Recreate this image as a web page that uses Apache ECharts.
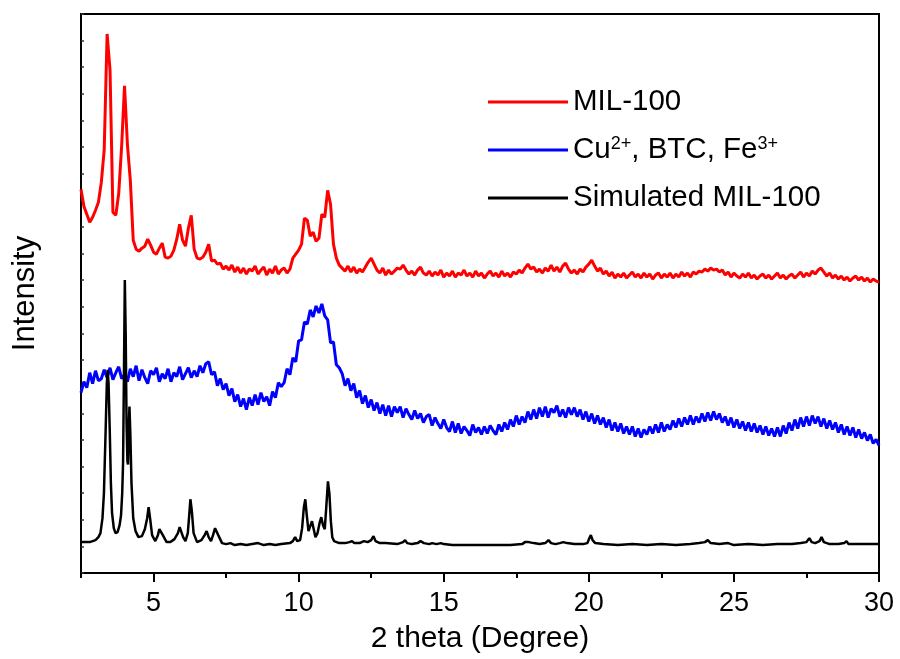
<!DOCTYPE html>
<html>
<head>
<meta charset="utf-8">
<script src="https://cdn.jsdelivr.net/npm/echarts@6/dist/echarts.min.js"></script>
<style>
  html, body { margin: 0; padding: 0; background: #fff; }
  #chart { width: 900px; height: 659px; }
</style>
</head>
<body>
<div id="chart"></div>
<script>
// XRD patterns, intensity in arbitrary units (offset stacked)
const seriesNames = ['MIL-100', 'Cu2+, BTC, Fe3+', 'Simulated MIL-100'];
const seriesColors = ['#ff0000', '#0000ff', '#000000'];

// measured patterns: 2θ from 2.5° in 0.1° steps
const scanStart = 2.5;
const scanStep = 0.1;

const mil100 = [
  385, 368, 360, 352, 357, 364, 372, 392, 425, 541,
  505, 362, 359, 381, 428, 489, 430, 394, 334, 325,
  323, 326, 328, 335, 329, 322, 320, 326, 331, 317,
  316, 318, 324, 335, 350, 334, 328, 346, 359, 325,
  316, 315, 317, 322, 330, 313, 314, 310, 311, 305,
  308, 304, 309, 302, 307, 301, 306, 300, 305, 303,
  308, 300, 304, 307, 299, 305, 301, 308, 300, 304,
  306, 301, 305, 316, 320, 324, 330, 356, 354, 338,
  342, 333, 336, 360, 357, 384, 370, 330, 316, 309,
  306, 303, 308, 302, 307, 301, 305, 302, 307, 312,
  316, 310, 304, 301, 306, 299, 304, 300, 303, 306,
  305, 309, 304, 300, 303, 299, 304, 307, 301, 299,
  303, 298, 302, 299, 304, 297, 301, 298, 303, 297,
  301, 299, 304, 298, 301, 297, 303, 298, 301, 296,
  300, 303, 298, 301, 297, 303, 298, 301, 297, 302,
  300, 304, 301, 306, 310, 305, 307, 302, 305, 301,
  306, 303, 309, 303, 307, 302, 308, 311, 305, 301,
  304, 300, 305, 302, 307, 310, 314, 308, 303, 306,
  300, 303, 298, 302, 296, 300, 297, 301, 296, 299,
  302, 297, 300, 296, 301, 297, 300, 295, 299, 301,
  296, 300, 297, 301, 296, 300, 297, 302, 298, 301,
  297, 302, 300, 303, 302, 305, 303, 306, 304, 305,
  302, 304, 299, 302, 297, 301, 298, 296, 300, 297,
  301, 296, 299, 295, 298, 300, 296, 299, 295, 298,
  301, 296, 299, 295, 298, 300, 296, 299, 302, 297,
  301, 298, 303, 300, 304, 306, 302, 298, 301, 296,
  299, 295, 298, 294, 297, 293, 296, 298, 294, 297,
  293, 296, 292, 295, 293, 292
];

const cuBtcFe = [
  181, 192, 186, 201, 190, 203, 193, 195, 204, 196,
  206, 194, 201, 207, 195, 199, 192, 205, 197, 208,
  193, 204, 196, 190, 203, 199, 206, 192, 200, 195,
  205, 192, 201, 197, 207, 194, 200, 206, 196, 203,
  197, 208, 201, 210, 212, 199, 202, 188, 195, 184,
  190, 178, 185, 172, 179, 167, 175, 164, 176, 168,
  179, 169, 181, 172, 177, 168, 182, 176, 191, 187,
  191, 205, 199, 216, 212, 233, 234, 252, 250, 264,
  257, 268, 261, 270, 258, 254, 231, 232, 209, 206,
  200, 188, 195, 183, 190, 176, 183, 170, 178, 166,
  174, 163, 171, 160, 169, 158, 168, 157, 167, 161,
  167, 156, 165, 159, 154, 163, 155, 160, 151, 157,
  159, 148, 156, 150, 145, 154, 146, 142, 152, 141,
  150, 140, 147, 143, 138, 149, 141, 146, 139, 147,
  140, 148, 143, 139, 149, 142, 151, 144, 154, 147,
  158, 149, 157, 151, 162, 154, 164, 155, 166, 157,
  167, 156, 165, 161, 168, 157, 164, 156, 166, 159,
  166, 157, 164, 154, 162, 152, 160, 150, 158, 149,
  156, 146, 154, 143, 151, 142, 150, 140, 147, 139,
  147, 137, 145, 136, 144, 139, 147, 140, 149, 141,
  151, 142, 149, 144, 153, 146, 155, 147, 156, 149,
  158, 149, 157, 151, 160, 152, 161, 153, 162, 154,
  160, 151, 157, 148, 156, 146, 154, 145, 152, 143,
  151, 142, 150, 141, 148, 139, 147, 138, 145, 137,
  146, 137, 148, 140, 151, 143, 154, 145, 156, 147,
  157, 148, 158, 150, 157, 147, 155, 145, 153, 144,
  151, 141, 149, 139, 147, 138, 146, 136, 144, 135,
  141, 133, 139, 130, 134, 128
];

// simulated pattern [2θ, intensity]
const simulated = [
  [2.5, 31], [2.8, 31], [3.0, 33], [3.1, 36], [3.17, 40], [3.24, 55], [3.29, 80],
  [3.35, 144], [3.39, 190], [3.42, 204], [3.45, 190], [3.49, 144], [3.53, 90],
  [3.57, 60], [3.63, 45], [3.69, 40], [3.76, 41], [3.83, 48], [3.88, 58],
  [3.92, 80], [3.95, 111], [3.98, 200], [4.01, 294], [4.04, 240], [4.07, 150],
  [4.1, 112], [4.12, 109], [4.15, 150], [4.17, 167], [4.2, 140], [4.24, 90],
  [4.3, 55], [4.38, 42], [4.48, 36], [4.6, 37], [4.7, 44], [4.78, 55], [4.83, 66],
  [4.88, 55], [4.95, 38], [5.06, 32], [5.15, 38], [5.2, 44], [5.25, 46],
  [5.32, 38], [5.45, 31], [5.58, 31], [5.72, 34], [5.84, 40], [5.9, 46],
  [5.95, 44], [6.02, 36], [6.1, 32], [6.18, 40], [6.23, 58], [6.27, 74],
  [6.32, 62], [6.38, 40], [6.5, 31], [6.65, 33], [6.76, 38], [6.83, 42],
  [6.9, 36], [6.98, 32], [7.05, 38], [7.12, 45], [7.17, 46], [7.23, 38],
  [7.36, 30], [7.5, 29], [7.65, 30], [7.8, 28], [8.0, 29], [8.2, 28], [8.4, 29],
  [8.6, 30], [8.8, 28], [9.0, 29], [9.2, 28], [9.4, 29], [9.7, 30], [9.8, 32],
  [9.88, 36], [9.95, 32], [10.05, 33], [10.12, 45], [10.18, 66], [10.23, 74],
  [10.28, 58], [10.34, 42], [10.4, 47], [10.46, 52], [10.52, 44], [10.58, 36],
  [10.65, 40], [10.72, 50], [10.78, 56], [10.84, 48], [10.9, 44], [10.95, 65],
  [11.01, 92], [11.06, 80], [11.11, 52], [11.16, 36], [11.22, 32], [11.4, 30],
  [11.6, 30], [11.75, 31], [11.84, 32], [11.92, 30], [12.1, 30], [12.25, 32],
  [12.3, 33], [12.38, 31], [12.5, 33], [12.58, 37], [12.65, 32], [12.8, 30],
  [13.0, 30], [13.4, 29], [13.6, 31], [13.67, 33], [13.74, 30], [13.9, 29],
  [14.1, 30], [14.2, 32], [14.25, 34], [14.32, 30], [14.5, 29], [14.6, 30],
  [14.65, 31], [14.75, 29], [14.9, 30], [14.94, 32], [15.0, 29], [15.3, 28],
  [15.8, 28], [16.3, 28], [16.8, 28], [17.3, 28], [17.7, 29], [17.8, 31],
  [17.86, 33], [17.93, 31], [18.1, 30], [18.3, 29], [18.5, 30], [18.61, 33],
  [18.7, 30], [18.85, 29], [19.0, 30], [19.12, 31], [19.18, 32], [19.25, 30],
  [19.5, 29], [19.8, 29], [19.95, 30], [20.02, 35], [20.07, 38], [20.13, 33],
  [20.22, 30], [20.5, 29], [21.0, 28], [21.5, 29], [22.0, 28], [22.5, 29],
  [23.0, 28], [23.5, 29], [23.8, 30], [24.0, 31], [24.1, 33], [24.2, 30],
  [24.5, 29], [24.8, 30], [25.0, 28], [25.5, 29], [26.0, 28], [26.5, 29],
  [27.0, 29], [27.3, 30], [27.5, 31], [27.6, 35], [27.68, 31], [27.8, 30],
  [27.95, 32], [28.02, 36], [28.1, 31], [28.3, 29], [28.6, 29], [28.8, 30],
  [28.88, 32], [28.95, 29], [29.3, 29], [29.7, 29], [30.0, 29]
];

// axis ticks
const xMin = 2.5, xMax = 30;
const majorTicks = [5, 10, 15, 20, 25, 30];
const minorTicks = [2.5, 7.5, 12.5, 17.5, 22.5, 27.5];
const yMax = 561;
const ySteps = 21;

function scan(values) {
  return values.map((v, i) => [+(scanStart + i * scanStep).toFixed(2), v]);
}

const chart = echarts.init(document.getElementById('chart'), null, { renderer: 'canvas' });

const font = 'Liberation Sans, Arial, sans-serif';

const option = {
  animation: false,
  backgroundColor: '#fff',
  grid: {
    left: 81, right: 21, top: 14, bottom: 85,
    show: true,
    borderColor: '#000',
    borderWidth: 2
  },
  legend: {
    orient: 'vertical',
    left: 483,
    top: 82,
    itemWidth: 80,
    itemHeight: 3,
    itemGap: 18,
    icon: 'rect',
    data: seriesNames,
    formatter: function (name) {
      if (name === seriesNames[1]) {
        return '{n|Cu}{s|2+}{n|, BTC, Fe}{s|3+}';
      }
      return '{n|' + name + '}';
    },
    textStyle: {
      fontFamily: font,
      color: '#000',
      rich: {
        n: { fontFamily: font, fontSize: 29.5, lineHeight: 30, color: '#000' },
        s: { fontFamily: font, fontSize: 18, lineHeight: 18, verticalAlign: 'top', color: '#000' }
      }
    }
  },
  xAxis: [{
    type: 'value',
    min: xMin,
    max: xMax,
    position: 'bottom',
    name: '2 theta (Degree)',
    nameLocation: 'middle',
    nameGap: 51,
    nameTextStyle: { fontFamily: font, fontSize: 30, color: '#000' },
    axisLine: { show: true, lineStyle: { color: '#000', width: 2 } },
    axisTick: { show: true, inside: false, length: 9, customValues: majorTicks, lineStyle: { color: '#000', width: 2 } },
    axisLabel: { show: true, customValues: majorTicks, fontFamily: font, fontSize: 27, color: '#000', margin: 17 },
    splitLine: { show: false }
  }, {
    type: 'value',
    min: xMin,
    max: xMax,
    position: 'bottom',
    axisLine: { show: false },
    axisTick: { show: true, inside: false, length: 5, customValues: minorTicks, lineStyle: { color: '#000', width: 2 } },
    axisLabel: { show: false },
    splitLine: { show: false }
  }],
  yAxis: {
    type: 'value',
    min: 0,
    max: yMax,
    interval: yMax / ySteps,
    name: 'Intensity',
    nameLocation: 'middle',
    nameGap: 40,
    nameTextStyle: { fontFamily: font, fontSize: 31, color: '#000' },
    axisLine: { show: true, lineStyle: { color: '#000', width: 2 } },
    axisTick: { show: true, inside: true, length: 3, lineStyle: { color: '#333', width: 1.5 } },
    axisLabel: { show: false },
    splitLine: { show: false }
  },
  series: [{
    name: seriesNames[0],
    type: 'line',
    data: scan(mil100),
    showSymbol: false,
    color: seriesColors[0],
    lineStyle: { width: 3, color: seriesColors[0] }
  }, {
    name: seriesNames[1],
    type: 'line',
    data: scan(cuBtcFe),
    showSymbol: false,
    color: seriesColors[1],
    lineStyle: { width: 3, color: seriesColors[1] }
  }, {
    name: seriesNames[2],
    type: 'line',
    data: simulated,
    showSymbol: false,
    color: seriesColors[2],
    lineStyle: { width: 2.5, color: seriesColors[2] }
  }]
};

chart.setOption(option);
</script>
</body>
</html>
